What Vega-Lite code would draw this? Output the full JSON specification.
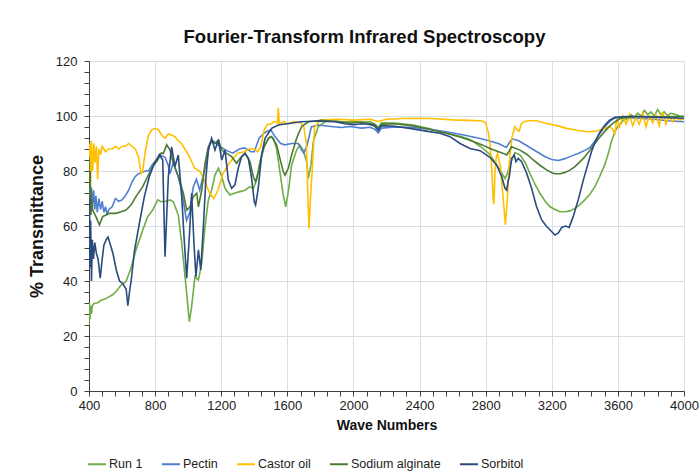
{
"$schema":"https://vega.github.io/schema/vega-lite/v6.json",
"width":595,"height":330,
"autosize":{"type":"none"},
"padding":{"left":89,"top":61,"right":15,"bottom":83},
"background":"white",
"title":{"text":"Fourier-Transform Infrared Spectroscopy","font":"Liberation Sans","fontSize":18.5,"fontWeight":"bold","color":"#111111","offset":9,"dx":-22},
"config":{"view":{"stroke":null},"font":"Liberation Sans"},
"data":{"values":[
{"s":"Run 1","x":400,"y":24},{"s":"Run 1","x":403,"y":32},{"s":"Run 1","x":406,"y":26},{"s":"Run 1","x":410,"y":31},{"s":"Run 1","x":415,"y":28},{"s":"Run 1","x":420,"y":31},{"s":"Run 1","x":432,"y":31.9},{"s":"Run 1","x":450,"y":32},{"s":"Run 1","x":473,"y":33},{"s":"Run 1","x":500,"y":33.5},{"s":"Run 1","x":523,"y":34.3},{"s":"Run 1","x":543,"y":35},{"s":"Run 1","x":563,"y":36.1},{"s":"Run 1","x":594,"y":38.5},{"s":"Run 1","x":624,"y":39.8},{"s":"Run 1","x":654,"y":44.6},{"s":"Run 1","x":684,"y":51.3},{"s":"Run 1","x":725,"y":58.5},{"s":"Run 1","x":755,"y":63.4},{"s":"Run 1","x":785,"y":65.8},{"s":"Run 1","x":816,"y":69.5},{"s":"Run 1","x":836,"y":68.8},{"s":"Run 1","x":866,"y":69},{"s":"Run 1","x":890,"y":69.5},{"s":"Run 1","x":910,"y":68.8},{"s":"Run 1","x":940,"y":64},{"s":"Run 1","x":961,"y":53.7},{"s":"Run 1","x":981,"y":41.6},{"s":"Run 1","x":995,"y":33},{"s":"Run 1","x":1007,"y":25.2},{"s":"Run 1","x":1021,"y":30.7},{"s":"Run 1","x":1041,"y":41.6},{"s":"Run 1","x":1062,"y":40.4},{"s":"Run 1","x":1082,"y":46.4},{"s":"Run 1","x":1102,"y":59.8},{"s":"Run 1","x":1122,"y":69.5},{"s":"Run 1","x":1142,"y":73},{"s":"Run 1","x":1162,"y":78.5},{"s":"Run 1","x":1183,"y":81},{"s":"Run 1","x":1203,"y":78},{"s":"Run 1","x":1223,"y":73.7},{"s":"Run 1","x":1253,"y":71.3},{"s":"Run 1","x":1283,"y":72},{"s":"Run 1","x":1313,"y":72.5},{"s":"Run 1","x":1344,"y":73},{"s":"Run 1","x":1374,"y":74.3},{"s":"Run 1","x":1394,"y":73.5},{"s":"Run 1","x":1414,"y":76.7},{"s":"Run 1","x":1434,"y":83.4},{"s":"Run 1","x":1465,"y":89.5},{"s":"Run 1","x":1495,"y":92.5},{"s":"Run 1","x":1515,"y":91.9},{"s":"Run 1","x":1535,"y":88.2},{"s":"Run 1","x":1555,"y":79.8},{"s":"Run 1","x":1575,"y":71.3},{"s":"Run 1","x":1590,"y":67},{"s":"Run 1","x":1606,"y":72.5},{"s":"Run 1","x":1626,"y":82.2},{"s":"Run 1","x":1656,"y":87.6},{"s":"Run 1","x":1676,"y":89.5},{"s":"Run 1","x":1696,"y":87.6},{"s":"Run 1","x":1717,"y":83.4},{"s":"Run 1","x":1727,"y":77.3},{"s":"Run 1","x":1743,"y":82.2},{"s":"Run 1","x":1757,"y":90.7},{"s":"Run 1","x":1787,"y":96.1},{"s":"Run 1","x":1828,"y":97.9},{"s":"Run 1","x":1888,"y":98.2},{"s":"Run 1","x":1950,"y":97.8},{"s":"Run 1","x":2000,"y":98.2},{"s":"Run 1","x":2050,"y":97.6},{"s":"Run 1","x":2100,"y":98},{"s":"Run 1","x":2130,"y":97},{"s":"Run 1","x":2150,"y":95.8},{"s":"Run 1","x":2170,"y":97.5},{"s":"Run 1","x":2250,"y":97.4},{"s":"Run 1","x":2362,"y":96.7},{"s":"Run 1","x":2450,"y":95.5},{"s":"Run 1","x":2564,"y":93.7},{"s":"Run 1","x":2650,"y":92.5},{"s":"Run 1","x":2705,"y":91.5},{"s":"Run 1","x":2766,"y":89},{"s":"Run 1","x":2826,"y":86},{"s":"Run 1","x":2877,"y":81.3},{"s":"Run 1","x":2900,"y":79},{"s":"Run 1","x":2917,"y":77.3},{"s":"Run 1","x":2930,"y":79},{"s":"Run 1","x":2947,"y":82.2},{"s":"Run 1","x":2977,"y":86.7},{"s":"Run 1","x":3008,"y":85.8},{"s":"Run 1","x":3040,"y":83},{"s":"Run 1","x":3068,"y":79},{"s":"Run 1","x":3100,"y":75},{"s":"Run 1","x":3129,"y":71.8},{"s":"Run 1","x":3160,"y":69},{"s":"Run 1","x":3189,"y":67},{"s":"Run 1","x":3220,"y":66},{"s":"Run 1","x":3250,"y":65.2},{"s":"Run 1","x":3280,"y":65.2},{"s":"Run 1","x":3310,"y":65.5},{"s":"Run 1","x":3340,"y":66.4},{"s":"Run 1","x":3370,"y":67.8},{"s":"Run 1","x":3400,"y":69.5},{"s":"Run 1","x":3430,"y":71.5},{"s":"Run 1","x":3461,"y":74.3},{"s":"Run 1","x":3490,"y":78},{"s":"Run 1","x":3522,"y":82.5},{"s":"Run 1","x":3545,"y":87},{"s":"Run 1","x":3562,"y":91},{"s":"Run 1","x":3580,"y":94},{"s":"Run 1","x":3602,"y":96.5},{"s":"Run 1","x":3620,"y":97.5},{"s":"Run 1","x":3643,"y":99.2},{"s":"Run 1","x":3660,"y":98.5},{"s":"Run 1","x":3680,"y":100.5},{"s":"Run 1","x":3700,"y":99.5},{"s":"Run 1","x":3720,"y":101},{"s":"Run 1","x":3740,"y":100},{"s":"Run 1","x":3760,"y":102},{"s":"Run 1","x":3780,"y":100.5},{"s":"Run 1","x":3800,"y":101.5},{"s":"Run 1","x":3820,"y":100},{"s":"Run 1","x":3840,"y":102.3},{"s":"Run 1","x":3860,"y":100.5},{"s":"Run 1","x":3880,"y":101.5},{"s":"Run 1","x":3900,"y":100.2},{"s":"Run 1","x":3920,"y":101},{"s":"Run 1","x":3950,"y":100.5},{"s":"Run 1","x":3975,"y":100},{"s":"Run 1","x":4000,"y":99.8},
{"s":"Pectin","x":400,"y":62},{"s":"Pectin","x":405,"y":72},{"s":"Pectin","x":410,"y":66},{"s":"Pectin","x":415,"y":74},{"s":"Pectin","x":420,"y":67},{"s":"Pectin","x":428,"y":73},{"s":"Pectin","x":435,"y":66},{"s":"Pectin","x":442,"y":71},{"s":"Pectin","x":450,"y":65},{"s":"Pectin","x":460,"y":70},{"s":"Pectin","x":470,"y":66},{"s":"Pectin","x":480,"y":69},{"s":"Pectin","x":490,"y":65},{"s":"Pectin","x":500,"y":67},{"s":"Pectin","x":510,"y":64},{"s":"Pectin","x":520,"y":66},{"s":"Pectin","x":540,"y":67},{"s":"Pectin","x":560,"y":70},{"s":"Pectin","x":580,"y":69},{"s":"Pectin","x":600,"y":69.5},{"s":"Pectin","x":620,"y":71},{"s":"Pectin","x":640,"y":73},{"s":"Pectin","x":660,"y":76},{"s":"Pectin","x":680,"y":78},{"s":"Pectin","x":700,"y":79},{"s":"Pectin","x":720,"y":79.5},{"s":"Pectin","x":740,"y":80},{"s":"Pectin","x":760,"y":80},{"s":"Pectin","x":780,"y":82},{"s":"Pectin","x":800,"y":83.5},{"s":"Pectin","x":820,"y":85},{"s":"Pectin","x":840,"y":85.5},{"s":"Pectin","x":860,"y":85},{"s":"Pectin","x":880,"y":82},{"s":"Pectin","x":890,"y":79},{"s":"Pectin","x":910,"y":83},{"s":"Pectin","x":940,"y":78},{"s":"Pectin","x":960,"y":73},{"s":"Pectin","x":990,"y":62},{"s":"Pectin","x":1010,"y":65},{"s":"Pectin","x":1030,"y":74},{"s":"Pectin","x":1050,"y":77},{"s":"Pectin","x":1070,"y":73},{"s":"Pectin","x":1090,"y":78},{"s":"Pectin","x":1110,"y":83},{"s":"Pectin","x":1130,"y":90},{"s":"Pectin","x":1150,"y":91},{"s":"Pectin","x":1190,"y":89},{"s":"Pectin","x":1230,"y":87.5},{"s":"Pectin","x":1270,"y":86.5},{"s":"Pectin","x":1310,"y":88},{"s":"Pectin","x":1340,"y":88.4},{"s":"Pectin","x":1380,"y":87},{"s":"Pectin","x":1400,"y":87},{"s":"Pectin","x":1430,"y":92},{"s":"Pectin","x":1465,"y":94},{"s":"Pectin","x":1500,"y":95},{"s":"Pectin","x":1525,"y":92.5},{"s":"Pectin","x":1560,"y":90},{"s":"Pectin","x":1585,"y":89.5},{"s":"Pectin","x":1625,"y":90},{"s":"Pectin","x":1666,"y":90},{"s":"Pectin","x":1686,"y":87.6},{"s":"Pectin","x":1700,"y":86.5},{"s":"Pectin","x":1720,"y":89.5},{"s":"Pectin","x":1745,"y":96},{"s":"Pectin","x":1785,"y":96.7},{"s":"Pectin","x":1866,"y":96.2},{"s":"Pectin","x":1927,"y":95.8},{"s":"Pectin","x":1980,"y":96.2},{"s":"Pectin","x":2050,"y":95.6},{"s":"Pectin","x":2100,"y":95.9},{"s":"Pectin","x":2130,"y":95.2},{"s":"Pectin","x":2150,"y":93.8},{"s":"Pectin","x":2170,"y":95.6},{"s":"Pectin","x":2250,"y":96},{"s":"Pectin","x":2360,"y":95.8},{"s":"Pectin","x":2460,"y":95.2},{"s":"Pectin","x":2560,"y":94.3},{"s":"Pectin","x":2660,"y":93.2},{"s":"Pectin","x":2760,"y":91.9},{"s":"Pectin","x":2820,"y":91},{"s":"Pectin","x":2880,"y":89.9},{"s":"Pectin","x":2910,"y":89},{"s":"Pectin","x":2925,"y":88.6},{"s":"Pectin","x":2940,"y":90},{"s":"Pectin","x":2960,"y":91.7},{"s":"Pectin","x":3000,"y":91},{"s":"Pectin","x":3060,"y":88.8},{"s":"Pectin","x":3110,"y":87},{"s":"Pectin","x":3160,"y":85.2},{"s":"Pectin","x":3200,"y":84.2},{"s":"Pectin","x":3240,"y":83.8},{"s":"Pectin","x":3280,"y":84.5},{"s":"Pectin","x":3320,"y":85.5},{"s":"Pectin","x":3360,"y":86.4},{"s":"Pectin","x":3400,"y":87.5},{"s":"Pectin","x":3430,"y":88.5},{"s":"Pectin","x":3460,"y":90.7},{"s":"Pectin","x":3490,"y":93.5},{"s":"Pectin","x":3520,"y":96},{"s":"Pectin","x":3550,"y":98},{"s":"Pectin","x":3580,"y":99.2},{"s":"Pectin","x":3620,"y":99.6},{"s":"Pectin","x":3700,"y":99.3},{"s":"Pectin","x":3820,"y":98.8},{"s":"Pectin","x":3900,"y":98.3},{"s":"Pectin","x":4000,"y":97.9},
{"s":"Castor oil","x":400,"y":78},{"s":"Castor oil","x":405,"y":90},{"s":"Castor oil","x":410,"y":76},{"s":"Castor oil","x":415,"y":91},{"s":"Castor oil","x":422,"y":80},{"s":"Castor oil","x":430,"y":90},{"s":"Castor oil","x":437,"y":83},{"s":"Castor oil","x":445,"y":89},{"s":"Castor oil","x":452,"y":77},{"s":"Castor oil","x":460,"y":88},{"s":"Castor oil","x":470,"y":86},{"s":"Castor oil","x":480,"y":89},{"s":"Castor oil","x":500,"y":87},{"s":"Castor oil","x":520,"y":88},{"s":"Castor oil","x":540,"y":88},{"s":"Castor oil","x":560,"y":89},{"s":"Castor oil","x":580,"y":88},{"s":"Castor oil","x":600,"y":89},{"s":"Castor oil","x":620,"y":89},{"s":"Castor oil","x":640,"y":90},{"s":"Castor oil","x":660,"y":89},{"s":"Castor oil","x":680,"y":88},{"s":"Castor oil","x":700,"y":85},{"s":"Castor oil","x":715,"y":79},{"s":"Castor oil","x":725,"y":80},{"s":"Castor oil","x":740,"y":87},{"s":"Castor oil","x":760,"y":93},{"s":"Castor oil","x":780,"y":95},{"s":"Castor oil","x":800,"y":95.5},{"s":"Castor oil","x":820,"y":95},{"s":"Castor oil","x":840,"y":93},{"s":"Castor oil","x":860,"y":92},{"s":"Castor oil","x":880,"y":93.5},{"s":"Castor oil","x":900,"y":93},{"s":"Castor oil","x":920,"y":92.5},{"s":"Castor oil","x":940,"y":91},{"s":"Castor oil","x":960,"y":90},{"s":"Castor oil","x":1000,"y":86},{"s":"Castor oil","x":1040,"y":81},{"s":"Castor oil","x":1070,"y":80},{"s":"Castor oil","x":1095,"y":77},{"s":"Castor oil","x":1130,"y":72},{"s":"Castor oil","x":1155,"y":70},{"s":"Castor oil","x":1180,"y":73},{"s":"Castor oil","x":1210,"y":79},{"s":"Castor oil","x":1250,"y":83},{"s":"Castor oil","x":1300,"y":86.5},{"s":"Castor oil","x":1340,"y":87},{"s":"Castor oil","x":1370,"y":88},{"s":"Castor oil","x":1400,"y":88},{"s":"Castor oil","x":1420,"y":87},{"s":"Castor oil","x":1440,"y":89},{"s":"Castor oil","x":1460,"y":95},{"s":"Castor oil","x":1480,"y":97},{"s":"Castor oil","x":1500,"y":97},{"s":"Castor oil","x":1520,"y":98},{"s":"Castor oil","x":1540,"y":97.5},{"s":"Castor oil","x":1545,"y":103},{"s":"Castor oil","x":1552,"y":97},{"s":"Castor oil","x":1580,"y":98},{"s":"Castor oil","x":1600,"y":97},{"s":"Castor oil","x":1640,"y":98},{"s":"Castor oil","x":1680,"y":97.5},{"s":"Castor oil","x":1700,"y":96},{"s":"Castor oil","x":1715,"y":90},{"s":"Castor oil","x":1725,"y":70},{"s":"Castor oil","x":1731,"y":59},{"s":"Castor oil","x":1740,"y":70},{"s":"Castor oil","x":1750,"y":80},{"s":"Castor oil","x":1765,"y":96},{"s":"Castor oil","x":1800,"y":98.5},{"s":"Castor oil","x":1900,"y":98.8},{"s":"Castor oil","x":2000,"y":98.5},{"s":"Castor oil","x":2100,"y":98.8},{"s":"Castor oil","x":2150,"y":98},{"s":"Castor oil","x":2200,"y":98.8},{"s":"Castor oil","x":2300,"y":99.1},{"s":"Castor oil","x":2400,"y":99.2},{"s":"Castor oil","x":2500,"y":99},{"s":"Castor oil","x":2600,"y":98.6},{"s":"Castor oil","x":2700,"y":98.4},{"s":"Castor oil","x":2780,"y":98.2},{"s":"Castor oil","x":2800,"y":97.5},{"s":"Castor oil","x":2816,"y":94},{"s":"Castor oil","x":2826,"y":90},{"s":"Castor oil","x":2836,"y":81.6},{"s":"Castor oil","x":2846,"y":69.5},{"s":"Castor oil","x":2850,"y":68},{"s":"Castor oil","x":2856,"y":79.2},{"s":"Castor oil","x":2864,"y":85},{"s":"Castor oil","x":2872,"y":86.4},{"s":"Castor oil","x":2882,"y":83.5},{"s":"Castor oil","x":2890,"y":81.6},{"s":"Castor oil","x":2900,"y":74},{"s":"Castor oil","x":2907,"y":69.5},{"s":"Castor oil","x":2919,"y":60.5},{"s":"Castor oil","x":2931,"y":69.5},{"s":"Castor oil","x":2940,"y":80},{"s":"Castor oil","x":2947,"y":86},{"s":"Castor oil","x":2960,"y":92.5},{"s":"Castor oil","x":2977,"y":96.1},{"s":"Castor oil","x":2991,"y":94.9},{"s":"Castor oil","x":3003,"y":94.5},{"s":"Castor oil","x":3015,"y":97},{"s":"Castor oil","x":3030,"y":97.9},{"s":"Castor oil","x":3060,"y":98.3},{"s":"Castor oil","x":3108,"y":98.3},{"s":"Castor oil","x":3169,"y":97.3},{"s":"Castor oil","x":3230,"y":96.5},{"s":"Castor oil","x":3290,"y":95.5},{"s":"Castor oil","x":3350,"y":94.8},{"s":"Castor oil","x":3411,"y":94.3},{"s":"Castor oil","x":3461,"y":94.4},{"s":"Castor oil","x":3492,"y":94.9},{"s":"Castor oil","x":3522,"y":95.5},{"s":"Castor oil","x":3552,"y":96.1},{"s":"Castor oil","x":3570,"y":95},{"s":"Castor oil","x":3582,"y":93.7},{"s":"Castor oil","x":3593,"y":99},{"s":"Castor oil","x":3610,"y":96},{"s":"Castor oil","x":3630,"y":100},{"s":"Castor oil","x":3650,"y":97},{"s":"Castor oil","x":3670,"y":100.5},{"s":"Castor oil","x":3690,"y":96.5},{"s":"Castor oil","x":3710,"y":99.5},{"s":"Castor oil","x":3730,"y":97},{"s":"Castor oil","x":3750,"y":101},{"s":"Castor oil","x":3770,"y":96},{"s":"Castor oil","x":3790,"y":100},{"s":"Castor oil","x":3810,"y":97.5},{"s":"Castor oil","x":3830,"y":100.5},{"s":"Castor oil","x":3850,"y":96.5},{"s":"Castor oil","x":3870,"y":101.5},{"s":"Castor oil","x":3890,"y":97},{"s":"Castor oil","x":3910,"y":100},{"s":"Castor oil","x":3930,"y":98},{"s":"Castor oil","x":3950,"y":99.5},{"s":"Castor oil","x":3975,"y":98.5},{"s":"Castor oil","x":4000,"y":99},
{"s":"Sodium alginate","x":400,"y":85},{"s":"Sodium alginate","x":403,"y":68},{"s":"Sodium alginate","x":407,"y":80},{"s":"Sodium alginate","x":412,"y":64},{"s":"Sodium alginate","x":417,"y":70},{"s":"Sodium alginate","x":422,"y":65.8},{"s":"Sodium alginate","x":442,"y":63.4},{"s":"Sodium alginate","x":463,"y":60.4},{"s":"Sodium alginate","x":483,"y":63.4},{"s":"Sodium alginate","x":503,"y":64},{"s":"Sodium alginate","x":523,"y":64.6},{"s":"Sodium alginate","x":563,"y":64.6},{"s":"Sodium alginate","x":594,"y":65.2},{"s":"Sodium alginate","x":624,"y":65.8},{"s":"Sodium alginate","x":654,"y":67.6},{"s":"Sodium alginate","x":684,"y":70.7},{"s":"Sodium alginate","x":725,"y":74.3},{"s":"Sodium alginate","x":755,"y":78},{"s":"Sodium alginate","x":785,"y":81.6},{"s":"Sodium alginate","x":816,"y":84},{"s":"Sodium alginate","x":836,"y":86.5},{"s":"Sodium alginate","x":850,"y":86.4},{"s":"Sodium alginate","x":870,"y":89.5},{"s":"Sodium alginate","x":890,"y":87.6},{"s":"Sodium alginate","x":910,"y":82.8},{"s":"Sodium alginate","x":940,"y":78},{"s":"Sodium alginate","x":971,"y":71.9},{"s":"Sodium alginate","x":991,"y":65.8},{"s":"Sodium alginate","x":1011,"y":67},{"s":"Sodium alginate","x":1031,"y":70.7},{"s":"Sodium alginate","x":1052,"y":71.9},{"s":"Sodium alginate","x":1062,"y":67},{"s":"Sodium alginate","x":1082,"y":73},{"s":"Sodium alginate","x":1102,"y":82.8},{"s":"Sodium alginate","x":1122,"y":88.8},{"s":"Sodium alginate","x":1142,"y":90.7},{"s":"Sodium alginate","x":1162,"y":90},{"s":"Sodium alginate","x":1183,"y":91.3},{"s":"Sodium alginate","x":1203,"y":87.6},{"s":"Sodium alginate","x":1233,"y":86.4},{"s":"Sodium alginate","x":1263,"y":85.2},{"s":"Sodium alginate","x":1293,"y":82.8},{"s":"Sodium alginate","x":1313,"y":84.5},{"s":"Sodium alginate","x":1344,"y":86.4},{"s":"Sodium alginate","x":1374,"y":83.4},{"s":"Sodium alginate","x":1394,"y":77.9},{"s":"Sodium alginate","x":1408,"y":76.1},{"s":"Sodium alginate","x":1428,"y":80.4},{"s":"Sodium alginate","x":1454,"y":88.2},{"s":"Sodium alginate","x":1485,"y":91.9},{"s":"Sodium alginate","x":1505,"y":92.5},{"s":"Sodium alginate","x":1535,"y":89.5},{"s":"Sodium alginate","x":1555,"y":84.6},{"s":"Sodium alginate","x":1575,"y":79.8},{"s":"Sodium alginate","x":1586,"y":78.5},{"s":"Sodium alginate","x":1606,"y":81},{"s":"Sodium alginate","x":1626,"y":85.8},{"s":"Sodium alginate","x":1656,"y":91.9},{"s":"Sodium alginate","x":1686,"y":96.1},{"s":"Sodium alginate","x":1727,"y":97.9},{"s":"Sodium alginate","x":1807,"y":98.4},{"s":"Sodium alginate","x":1900,"y":98},{"s":"Sodium alginate","x":1980,"y":97.4},{"s":"Sodium alginate","x":2050,"y":97.8},{"s":"Sodium alginate","x":2100,"y":97.3},{"s":"Sodium alginate","x":2130,"y":96.8},{"s":"Sodium alginate","x":2150,"y":95.6},{"s":"Sodium alginate","x":2170,"y":97},{"s":"Sodium alginate","x":2250,"y":97.2},{"s":"Sodium alginate","x":2362,"y":96.4},{"s":"Sodium alginate","x":2460,"y":95.2},{"s":"Sodium alginate","x":2564,"y":93.7},{"s":"Sodium alginate","x":2650,"y":92.3},{"s":"Sodium alginate","x":2725,"y":90.7},{"s":"Sodium alginate","x":2780,"y":89.5},{"s":"Sodium alginate","x":2826,"y":88.2},{"s":"Sodium alginate","x":2870,"y":87.2},{"s":"Sodium alginate","x":2907,"y":86.4},{"s":"Sodium alginate","x":2927,"y":85.8},{"s":"Sodium alginate","x":2940,"y":87},{"s":"Sodium alginate","x":2957,"y":88.8},{"s":"Sodium alginate","x":3008,"y":87.6},{"s":"Sodium alginate","x":3050,"y":86},{"s":"Sodium alginate","x":3088,"y":84},{"s":"Sodium alginate","x":3130,"y":82},{"s":"Sodium alginate","x":3169,"y":80.4},{"s":"Sodium alginate","x":3200,"y":79.4},{"s":"Sodium alginate","x":3219,"y":79},{"s":"Sodium alginate","x":3250,"y":79},{"s":"Sodium alginate","x":3280,"y":79.5},{"s":"Sodium alginate","x":3310,"y":80.3},{"s":"Sodium alginate","x":3340,"y":81.6},{"s":"Sodium alginate","x":3370,"y":83.3},{"s":"Sodium alginate","x":3400,"y":85.2},{"s":"Sodium alginate","x":3430,"y":87.5},{"s":"Sodium alginate","x":3461,"y":90},{"s":"Sodium alginate","x":3490,"y":92.3},{"s":"Sodium alginate","x":3522,"y":94.5},{"s":"Sodium alginate","x":3550,"y":96.3},{"s":"Sodium alginate","x":3582,"y":97.9},{"s":"Sodium alginate","x":3610,"y":99},{"s":"Sodium alginate","x":3643,"y":99.5},{"s":"Sodium alginate","x":3750,"y":99.8},{"s":"Sodium alginate","x":3850,"y":99.7},{"s":"Sodium alginate","x":4000,"y":99.8},
{"s":"Sorbitol","x":400,"y":50},{"s":"Sorbitol","x":403,"y":70},{"s":"Sorbitol","x":406,"y":45},{"s":"Sorbitol","x":410,"y":62},{"s":"Sorbitol","x":415,"y":40},{"s":"Sorbitol","x":420,"y":55},{"s":"Sorbitol","x":427,"y":48},{"s":"Sorbitol","x":435,"y":54},{"s":"Sorbitol","x":445,"y":50},{"s":"Sorbitol","x":455,"y":48},{"s":"Sorbitol","x":468,"y":41},{"s":"Sorbitol","x":478,"y":47},{"s":"Sorbitol","x":490,"y":53},{"s":"Sorbitol","x":504,"y":55},{"s":"Sorbitol","x":515,"y":56},{"s":"Sorbitol","x":525,"y":54},{"s":"Sorbitol","x":545,"y":50},{"s":"Sorbitol","x":565,"y":44},{"s":"Sorbitol","x":585,"y":40},{"s":"Sorbitol","x":605,"y":39},{"s":"Sorbitol","x":625,"y":37},{"s":"Sorbitol","x":635,"y":31},{"s":"Sorbitol","x":645,"y":36},{"s":"Sorbitol","x":655,"y":40},{"s":"Sorbitol","x":675,"y":51},{"s":"Sorbitol","x":705,"y":61},{"s":"Sorbitol","x":735,"y":70.7},{"s":"Sorbitol","x":765,"y":78},{"s":"Sorbitol","x":796,"y":82.8},{"s":"Sorbitol","x":826,"y":86},{"s":"Sorbitol","x":846,"y":84},{"s":"Sorbitol","x":860,"y":48.8},{"s":"Sorbitol","x":880,"y":78},{"s":"Sorbitol","x":900,"y":88.8},{"s":"Sorbitol","x":920,"y":81.6},{"s":"Sorbitol","x":940,"y":85.8},{"s":"Sorbitol","x":961,"y":70.7},{"s":"Sorbitol","x":975,"y":56},{"s":"Sorbitol","x":991,"y":41},{"s":"Sorbitol","x":1007,"y":56},{"s":"Sorbitol","x":1021,"y":71.9},{"s":"Sorbitol","x":1035,"y":53.7},{"s":"Sorbitol","x":1047,"y":41.6},{"s":"Sorbitol","x":1062,"y":51.3},{"s":"Sorbitol","x":1076,"y":44},{"s":"Sorbitol","x":1092,"y":59.8},{"s":"Sorbitol","x":1108,"y":78},{"s":"Sorbitol","x":1122,"y":87.6},{"s":"Sorbitol","x":1142,"y":91.9},{"s":"Sorbitol","x":1162,"y":87.6},{"s":"Sorbitol","x":1183,"y":91.3},{"s":"Sorbitol","x":1203,"y":84},{"s":"Sorbitol","x":1223,"y":87.6},{"s":"Sorbitol","x":1243,"y":76.7},{"s":"Sorbitol","x":1263,"y":73.7},{"s":"Sorbitol","x":1283,"y":75},{"s":"Sorbitol","x":1303,"y":81},{"s":"Sorbitol","x":1323,"y":85.2},{"s":"Sorbitol","x":1344,"y":86.4},{"s":"Sorbitol","x":1364,"y":84.6},{"s":"Sorbitol","x":1384,"y":77.3},{"s":"Sorbitol","x":1400,"y":68.8},{"s":"Sorbitol","x":1408,"y":67.6},{"s":"Sorbitol","x":1424,"y":73.7},{"s":"Sorbitol","x":1444,"y":85.8},{"s":"Sorbitol","x":1465,"y":91.9},{"s":"Sorbitol","x":1505,"y":95.5},{"s":"Sorbitol","x":1545,"y":96.7},{"s":"Sorbitol","x":1606,"y":97.3},{"s":"Sorbitol","x":1686,"y":97.9},{"s":"Sorbitol","x":1787,"y":98.2},{"s":"Sorbitol","x":1888,"y":97.9},{"s":"Sorbitol","x":1950,"y":97.2},{"s":"Sorbitol","x":2000,"y":96.8},{"s":"Sorbitol","x":2050,"y":97.2},{"s":"Sorbitol","x":2100,"y":96.9},{"s":"Sorbitol","x":2130,"y":96.3},{"s":"Sorbitol","x":2150,"y":94.8},{"s":"Sorbitol","x":2170,"y":96.5},{"s":"Sorbitol","x":2250,"y":96.3},{"s":"Sorbitol","x":2350,"y":95.4},{"s":"Sorbitol","x":2450,"y":94.4},{"s":"Sorbitol","x":2524,"y":93.7},{"s":"Sorbitol","x":2584,"y":92.5},{"s":"Sorbitol","x":2645,"y":90},{"s":"Sorbitol","x":2705,"y":88.2},{"s":"Sorbitol","x":2766,"y":87.4},{"s":"Sorbitol","x":2826,"y":85},{"s":"Sorbitol","x":2866,"y":82.2},{"s":"Sorbitol","x":2897,"y":78},{"s":"Sorbitol","x":2917,"y":73.7},{"s":"Sorbitol","x":2927,"y":73},{"s":"Sorbitol","x":2935,"y":76},{"s":"Sorbitol","x":2943,"y":78},{"s":"Sorbitol","x":2957,"y":84.6},{"s":"Sorbitol","x":2973,"y":85.8},{"s":"Sorbitol","x":2983,"y":83.4},{"s":"Sorbitol","x":2997,"y":84.6},{"s":"Sorbitol","x":3018,"y":83.4},{"s":"Sorbitol","x":3048,"y":79.2},{"s":"Sorbitol","x":3078,"y":73.7},{"s":"Sorbitol","x":3108,"y":67},{"s":"Sorbitol","x":3139,"y":62.2},{"s":"Sorbitol","x":3169,"y":59.8},{"s":"Sorbitol","x":3199,"y":58},{"s":"Sorbitol","x":3219,"y":56.7},{"s":"Sorbitol","x":3240,"y":57.5},{"s":"Sorbitol","x":3260,"y":59.5},{"s":"Sorbitol","x":3285,"y":60},{"s":"Sorbitol","x":3305,"y":59.5},{"s":"Sorbitol","x":3330,"y":63.5},{"s":"Sorbitol","x":3360,"y":69.5},{"s":"Sorbitol","x":3390,"y":76.5},{"s":"Sorbitol","x":3421,"y":83},{"s":"Sorbitol","x":3440,"y":87},{"s":"Sorbitol","x":3461,"y":90.5},{"s":"Sorbitol","x":3490,"y":94},{"s":"Sorbitol","x":3522,"y":96.7},{"s":"Sorbitol","x":3550,"y":98.5},{"s":"Sorbitol","x":3582,"y":99.5},{"s":"Sorbitol","x":3650,"y":99.8},{"s":"Sorbitol","x":3723,"y":99.8},{"s":"Sorbitol","x":3850,"y":99.5},{"s":"Sorbitol","x":4000,"y":99.2}
]},
"mark":{"type":"line","strokeWidth":1.6,"clip":true},
"encoding":{
"x":{"field":"x","type":"quantitative","scale":{"domain":[400,4000],"nice":false,"zero":false},
 "axis":{"title":"Wave Numbers","titleFont":"Liberation Sans","titleFontSize":14,"titleFontWeight":"bold","titleColor":"#111111","titlePadding":6,
 "values":[400,480,560,640,720,800,880,960,1040,1120,1200,1280,1360,1440,1520,1600,1680,1760,1840,1920,2000,2080,2160,2240,2320,2400,2480,2560,2640,2720,2800,2880,2960,3040,3120,3200,3280,3360,3440,3520,3600,3680,3760,3840,3920,4000],
 "format":"d","labelExpr":"datum.value % 400 === 0 ? datum.label : ''",
 "gridOpacity":{"condition":{"test":"datum.value % 400 === 0","value":1},"value":0},
 "gridColor":"#D9DEE6","domainColor":"#404040","tickColor":"#404040","tickSize":5,"labelPadding":3,
 "labelFont":"Liberation Sans","labelFontSize":13,"labelColor":"#222222","labelOverlap":false,"labelBound":false,"labelFlush":false}},
"y":{"field":"y","type":"quantitative","scale":{"domain":[0,120],"nice":false},
 "axis":{"title":"% Transmittance","titleFont":"Liberation Sans","titleFontSize":18,"titleFontWeight":"bold","titleColor":"#111111","titlePadding":9,
 "values":[0,4,8,12,16,20,24,28,32,36,40,44,48,52,56,60,64,68,72,76,80,84,88,92,96,100,104,108,112,116,120],
 "labelExpr":"datum.value % 20 === 0 ? datum.label : ''",
 "gridOpacity":{"condition":{"test":"datum.value % 20 === 0","value":1},"value":0},
 "gridColor":"#D9DEE6","domainColor":"#404040","tickColor":"#404040","tickSize":5,"labelPadding":7,
 "labelFont":"Liberation Sans","labelFontSize":13,"labelColor":"#222222","labelOverlap":false,"labelBound":false,"labelFlush":false}},
"color":{"field":"s","type":"nominal",
 "scale":{"domain":["Run 1","Pectin","Castor oil","Sodium alginate","Sorbitol"],"range":["#70AD47","#4F7FD0","#FFC000","#4C7A31","#2B4A7E"]},
 "legend":{"title":null,"orient":"none","legendX":-2,"legendY":393,"direction":"horizontal","symbolType":"stroke","symbolSize":324,"symbolStrokeWidth":2,
 "labelFont":"Liberation Sans","labelFontSize":12.5,"labelColor":"#222222","columnPadding":15,"labelOffset":2}}
}
}
